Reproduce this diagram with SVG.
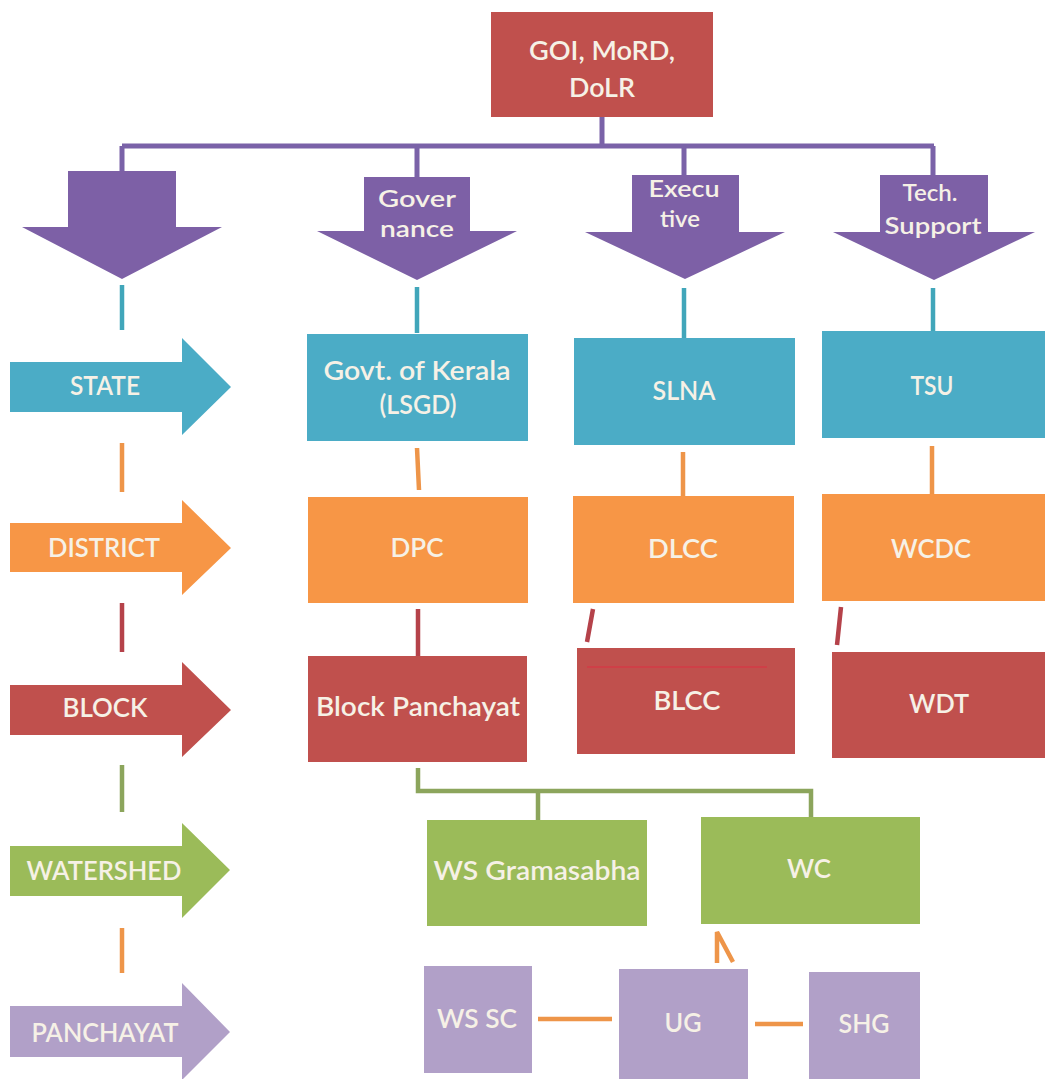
<svg xmlns="http://www.w3.org/2000/svg" width="1047" height="1079" viewBox="0 0 1047 1079">
<style>
text{font-family:Lato,"Liberation Sans",sans-serif;font-size:27px;font-weight:600;fill:#f6f1e6;text-anchor:middle}
text.s{font-size:23px}
.pu{fill:#7d60a6}.rd{fill:#c0504d}.bl{fill:#4bacc6}.or{fill:#f79646}.gr{fill:#9bbb59}.lv{fill:#b1a0c8}
.c{fill:none;stroke-width:4.5;stroke-linecap:butt}
.cp{stroke:#7a62a8;stroke-width:5}.ct{stroke:#41a6ba}.co{stroke:#ee9549}.cr{stroke:#b5424a}.cg{stroke:#8ca55c}
</style>
<rect width="1047" height="1079" fill="#ffffff"/>
<g id="connectors">
<path class="c cp" d="M602,117V146M122,146H934M122,146V171M417,146V177M684,146V175M933,146V175"/>
<path class="c ct" d="M122,285V330M417,287V333M684,288V338M933,288V331"/>
<path class="c co" d="M122,443V492M417,448L419,490M683,452V496M932,446V494"/>
<path class="c cr" d="M122,603V652M418,609V656M593,609L587,642M841,607L837,645"/>
<path class="c cg" d="M122,765V812M418,768V791H811V817M538,791V820"/>
<path class="c co" d="M122,928V973"/>
<path class="c co" stroke-width="5" d="M538,1019H612M755,1024H803"/>
<path class="c co" d="M717,963V932L733,962"/>
</g>
<g id="top"><rect class="rd" x="491" y="12" width="222" height="105"/><text x="602" y="60" textLength="146" lengthAdjust="spacingAndGlyphs">GOI, MoRD,</text><text x="602" y="97" textLength="66" lengthAdjust="spacingAndGlyphs">DoLR</text></g>
<g id="arrow-down-1"><polygon class="pu" points="68,171 176,171 176,227 222,227 122,279 22,227 68,227"/></g>
<g id="arrow-governance"><polygon class="pu" points="364,177 470,177 470,231 517,231 417,280 317,231 364,231"/><text class="s" x="417" y="207" textLength="78" lengthAdjust="spacingAndGlyphs">Gover</text><text class="s" x="417" y="237" textLength="74" lengthAdjust="spacingAndGlyphs">nance</text></g>
<g id="arrow-executive"><polygon class="pu" points="632,175 739,175 739,232 785,232 685,279 585,232 632,232"/><text class="s" x="684" y="197" textLength="71" lengthAdjust="spacingAndGlyphs">Execu</text><text class="s" x="680" y="227" textLength="40" lengthAdjust="spacingAndGlyphs">tive</text></g>
<g id="arrow-tech"><polygon class="pu" points="880,175 988,175 988,232 1035,232 934,280 833,232 880,232"/><text class="s" x="930" y="201" textLength="55" lengthAdjust="spacingAndGlyphs">Tech.</text><text class="s" x="933" y="234" textLength="97" lengthAdjust="spacingAndGlyphs">Support</text></g>
<g id="level-state"><polygon class="bl" points="10,362 182,362 182,338 231,387 182,435 182,412 10,412"/><text x="105" y="395" textLength="70" lengthAdjust="spacingAndGlyphs">STATE</text></g>
<g id="level-district"><polygon class="or" points="10,523 182,523 182,500 231,548 182,595 182,572 10,572"/><text x="104" y="557" textLength="112" lengthAdjust="spacingAndGlyphs">DISTRICT</text></g>
<g id="level-block"><polygon class="rd" points="10,685 182,685 182,662 231,710 182,757 182,735 10,735"/><text x="105" y="717" textLength="85" lengthAdjust="spacingAndGlyphs">BLOCK</text></g>
<g id="level-watershed"><polygon class="gr" points="10,846 182,846 182,823 230,870 182,918 182,896 10,896"/><text x="104" y="880" textLength="155" lengthAdjust="spacingAndGlyphs">WATERSHED</text></g>
<g id="level-panchayat"><polygon class="lv" points="10,1006 182,1006 182,983 230,1032 182,1080 182,1057 10,1057"/><text x="105" y="1042" textLength="147" lengthAdjust="spacingAndGlyphs">PANCHAYAT</text></g>
<g id="kerala"><rect class="bl" x="307" y="334" width="221" height="107"/><text x="417" y="380" textLength="187" lengthAdjust="spacingAndGlyphs">Govt. of Kerala</text><text x="418" y="414" textLength="77" lengthAdjust="spacingAndGlyphs">(LSGD)</text></g>
<g id="slna"><rect class="bl" x="574" y="338" width="221" height="107"/><text x="684" y="400" textLength="63" lengthAdjust="spacingAndGlyphs">SLNA</text></g>
<g id="tsu"><rect class="bl" x="822" y="331" width="223" height="107"/><text x="932" y="395" textLength="43" lengthAdjust="spacingAndGlyphs">TSU</text></g>
<g id="dpc"><rect class="or" x="308" y="497" width="220" height="106"/><text x="417" y="557" textLength="53" lengthAdjust="spacingAndGlyphs">DPC</text></g>
<g id="dlcc"><rect class="or" x="573" y="496" width="221" height="107"/><text x="683" y="558" textLength="70" lengthAdjust="spacingAndGlyphs">DLCC</text></g>
<g id="wcdc"><rect class="or" x="822" y="494" width="223" height="107"/><text x="931" y="558" textLength="80" lengthAdjust="spacingAndGlyphs">WCDC</text></g>
<g id="block-panchayat"><rect class="rd" x="308" y="656" width="219" height="106"/><text x="418" y="716" textLength="204" lengthAdjust="spacingAndGlyphs">Block Panchayat</text></g>
<g id="blcc"><rect class="rd" x="577" y="648" width="218" height="106"/><line x1="587" y1="667" x2="767" y2="667" stroke="#cf3f47" stroke-width="2"/><text x="687" y="710" textLength="67" lengthAdjust="spacingAndGlyphs">BLCC</text></g>
<g id="wdt"><rect class="rd" x="832" y="652" width="213" height="106"/><text x="939" y="713" textLength="60" lengthAdjust="spacingAndGlyphs">WDT</text></g>
<g id="ws-gramasabha"><rect class="gr" x="427" y="820" width="220" height="106"/><text x="537" y="880" textLength="207" lengthAdjust="spacingAndGlyphs">WS Gramasabha</text></g>
<g id="wc"><rect class="gr" x="701" y="817" width="219" height="107"/><text x="809" y="878" textLength="44" lengthAdjust="spacingAndGlyphs">WC</text></g>
<g id="ws-sc"><rect class="lv" x="424" y="966" width="108" height="107"/><text x="477" y="1028" textLength="80" lengthAdjust="spacingAndGlyphs">WS SC</text></g>
<g id="ug"><rect class="lv" x="619" y="969" width="129" height="110"/><text x="683" y="1032" textLength="37" lengthAdjust="spacingAndGlyphs">UG</text></g>
<g id="shg"><rect class="lv" x="809" y="972" width="111" height="107"/><text x="864" y="1033" textLength="51" lengthAdjust="spacingAndGlyphs">SHG</text></g>
</svg>
